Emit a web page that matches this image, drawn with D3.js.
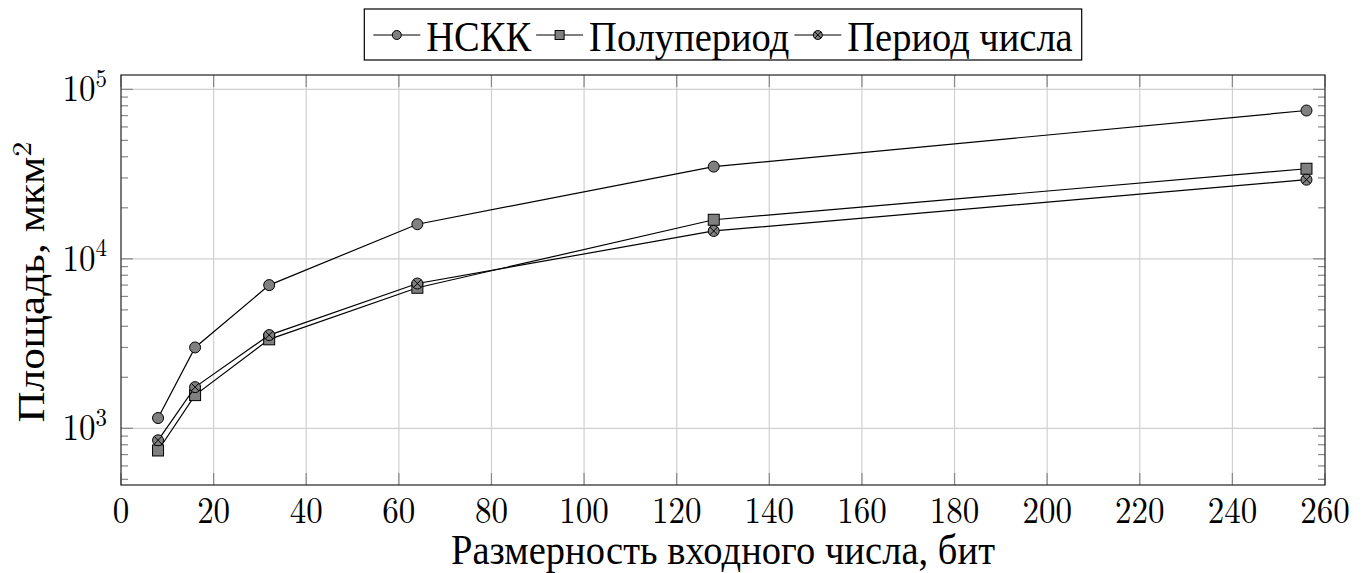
<!DOCTYPE html>
<html>
  <head>
    <meta charset="utf-8">
    <style type="text/css">
      body { margin: 0; background: #fff; }
    </style>
    <title>Площадь</title>
  </head>
  <body>
    <script src="https://cdn.jsdelivr.net/npm/d3@7"></script>
    <script>

/*========== Data ==========*/
const bits = [8, 16, 32, 64, 128, 256];
const nskk = [1150, 3000, 7000, 16000, 35000, 75000];
const halfPeriod = [740, 1570, 3350, 6750, 17000, 34000];
const numPeriod = [850, 1750, 3550, 7150, 14600, 29300];
const seriesNames = ['НСКК', 'Полупериод', 'Период числа'];
const seriesMarks = ['circle', 'square', 'otimes'];
const xTicks = [0, 20, 40, 60, 80, 100, 120, 140, 160, 180, 200, 220, 240, 260];
const yTicks = [1e3, 1e4, 1e5];
const yTickExp = ['3', '4', '5'];

const series = [nskk, halfPeriod, numPeriod];

/*========== Zones ==========*/
const W = 1366, H = 573;
const plot = {left: 121, right: 1325, top: 75, bottom: 485};
const textFont = '"Liberation Serif"';
const numFont = '"Latin Modern Roman"';
const stretch = 1.12;   // picture is a little taller than wide
const titleSize = 38.5;

const svg = d3.select("body").append("svg")
    .attr("width", W)
    .attr("height", H);

const x = d3.scaleLinear().domain([0, 260]).range([plot.left, plot.right]);
const y = d3.scaleLog().domain([463, 121500]).range([plot.bottom, plot.top]);

// text helper: placed at (tx,ty), stretched vertically
function label(g, tx, ty, font, size, anchor) {
  return g.append("text")
      .attr("transform", `translate(${tx},${ty}) scale(1,${stretch})`)
      .attr("text-anchor", anchor)
      .attr("font-family", font)
      .attr("font-size", size)
      .attr("fill", "#000");
}

// grid
svg.append("g").selectAll("line")
  .data(xTicks.slice(1, -1))
  .enter().append("line")
    .attr("x1", d => x(d)).attr("x2", d => x(d))
    .attr("y1", plot.top).attr("y2", plot.bottom)
    .attr("stroke", "#d0d0d0").attr("stroke-width", 1.2);
svg.append("g").selectAll("line")
  .data(yTicks)
  .enter().append("line")
    .attr("x1", plot.left).attr("x2", plot.right)
    .attr("y1", d => y(d)).attr("y2", d => y(d))
    .attr("stroke", "#d0d0d0").attr("stroke-width", 1.2);

// minor ticks on log axis
let minor = [];
for (let e = 2; e <= 5; e++) {
  for (let m = 2; m <= 9; m++) {
    const v = m * Math.pow(10, e);
    if (v > 463 && v < 121500) minor.push(v);
  }
}
const tickCol = "#888";
function tick(x1, y1, x2, y2) {
  svg.append("line").attr("x1", x1).attr("y1", y1).attr("x2", x2).attr("y2", y2)
    .attr("stroke", tickCol).attr("stroke-width", 1.2);
}
minor.forEach(v => {
  tick(plot.left, y(v), plot.left + 7, y(v));
  tick(plot.right, y(v), plot.right - 7, y(v));
});
yTicks.forEach(v => {
  tick(plot.left, y(v), plot.left + 12, y(v));
  tick(plot.right, y(v), plot.right - 12, y(v));
});
xTicks.forEach(v => {
  tick(x(v), plot.bottom, x(v), plot.bottom - 12);
  tick(x(v), plot.top, x(v), plot.top + 12);
});

// frame
svg.append("rect")
    .attr("x", plot.left).attr("y", plot.top)
    .attr("width", plot.right - plot.left).attr("height", plot.bottom - plot.top)
    .attr("fill", "none").attr("stroke", "#333").attr("stroke-width", 1.3);

// tick labels
xTicks.forEach(v => {
  label(svg, x(v), 523, numFont, 33, "middle").text(v);
});
yTicks.forEach((v, i) => {
  const t = label(svg, 107, y(v) + 12, numFont, 33, "end");
  t.append("tspan").text("10");
  t.append("tspan").attr("dy", -13).attr("font-size", 23).text(yTickExp[i]);
});

// axis titles
const xt = label(svg, (plot.left + plot.right) / 2, 564, textFont, titleSize, "middle")
  .text("Размерность входного числа, бит");
// spread letters a little so the title spans the width
const xtText = "Размерность входного числа, бит";
const spacing = (544 - xt.node().getComputedTextLength()) / (xtText.length - 1);
xt.attr("letter-spacing", spacing);

const yt = svg.append("text")
    .attr("transform", `translate(44, ${(plot.top + plot.bottom) / 2 + 2}) rotate(-90) scale(${stretch},1)`)
    .attr("text-anchor", "middle")
    .attr("font-family", textFont)
    .attr("font-size", titleSize)
    .attr("letter-spacing", spacing)
    .attr("fill", "#000");
yt.append("tspan").text("Площадь, мкм");
yt.append("tspan").attr("dy", -13).attr("font-family", numFont)
  .attr("font-size", titleSize * 0.7).text("2");

/*========== Markers ==========*/
function drawMarker(g, kind, cx, cy, r) {
  if (kind === 'square') {
    g.append("rect").attr("x", cx - r).attr("y", cy - r)
      .attr("width", 2 * r).attr("height", 2 * r)
      .attr("fill", "#808080").attr("stroke", "#000").attr("stroke-width", 1);
    return;
  }
  g.append("circle").attr("cx", cx).attr("cy", cy).attr("r", r)
    .attr("fill", "#808080").attr("stroke", "#000").attr("stroke-width", 1);
  if (kind === 'otimes') {
    const k = r * 0.707;
    g.append("path")
      .attr("d", `M${cx - k},${cy - k}L${cx + k},${cy + k}M${cx - k},${cy + k}L${cx + k},${cy - k}`)
      .attr("stroke", "#000").attr("stroke-width", 1);
  }
}

const line = d3.line().x((d, i) => x(bits[i])).y(d => y(d));
series.forEach((s, si) => {
  const g = svg.append("g");
  g.append("path").attr("d", line(s))
    .attr("fill", "none").attr("stroke", "#000").attr("stroke-width", 1.2);
  s.forEach((v, i) => drawMarker(g, seriesMarks[si], x(bits[i]), y(v), 5.5));
});

/*========== Legend ==========*/
const lg = svg.append("g");
const lgBox = lg.append("rect")
    .attr("y", 9).attr("height", 51)
    .attr("fill", "#fff").attr("stroke", "#000").attr("stroke-width", 1.2);
const items = lg.append("g");
let cursor = 9;
seriesNames.forEach((name, i) => {
  items.append("line").attr("x1", cursor).attr("x2", cursor + 47)
    .attr("y1", 35).attr("y2", 35).attr("stroke", "#000").attr("stroke-width", 1.2);
  drawMarker(items, seriesMarks[i], cursor + 23.5, 35, 4.5);
  const t = label(items, cursor + 53, 51, textFont, 38.5, "start").text(name);
  cursor += 53 + t.node().getComputedTextLength() + 5;
});
const lgW = cursor + 4;
const lgX = (plot.left + plot.right) / 2 - lgW / 2;
items.attr("transform", `translate(${lgX},0)`);
lgBox.attr("x", lgX).attr("width", lgW);

    </script>
  </body>
</html>
